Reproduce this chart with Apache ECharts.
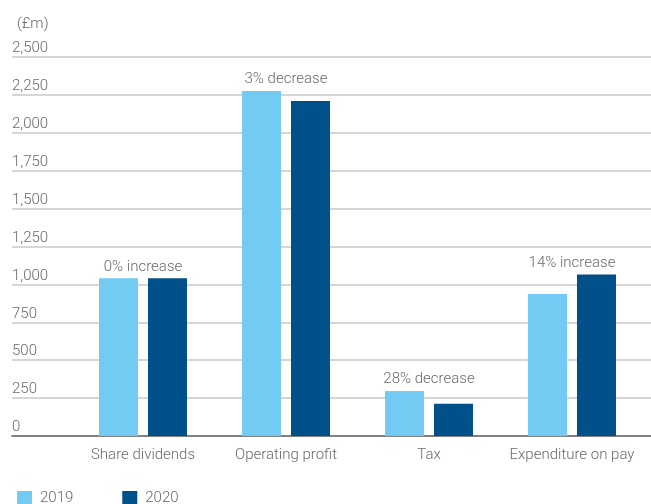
<!DOCTYPE html>
<html>
<head>
<meta charset="utf-8">
<script src="https://cdn.jsdelivr.net/npm/echarts@6/dist/echarts.min.js"></script>
<style>
html,body{margin:0;padding:0;background:#fff;}
#chart{width:651px;height:504px;}
</style>
</head>
<body>
<div id="chart"></div>
<script>
const categories = ['Share dividends', 'Operating profit', 'Tax', 'Expenditure on pay'];
const values2019 = [1040, 2276, 297, 936];
const values2020 = [1040, 2210, 213, 1065];
const changeLabels = ['0% increase', '3% decrease', '28% decrease', '14% increase'];
const seriesNames = ['2019', '2020'];
const yMin = 0, yMax = 2500, yStep = 250;
const unitLabel = '(£m)';

const FONT = 'Roboto';
const TXT = '#6a6a6a';
const LIGHT = '#73CBF4';
const DARK = '#00508A';

const annotationData = categories.map((c, i) => ({
  value: [c, Math.max(values2019[i], values2020[i])],
  label: { formatter: changeLabels[i] }
}));

const chart = echarts.init(document.getElementById('chart'), null, {renderer: 'canvas'});
chart.setOption({
  animation: false,
  backgroundColor: '#fff',
  textStyle: { fontFamily: FONT },
  title: {
    text: unitLabel, left: 12, top: 12,
    textStyle: { fontFamily: FONT, fontSize: 15, fontWeight: 300, color: TXT }
  },
  legend: {
    left: 12, top: 486, itemWidth: 15, itemHeight: 15, itemGap: 49, icon: 'rect',
    data: seriesNames,
    textStyle: { fontFamily: FONT, fontSize: 15, fontWeight: 300, color: TXT, padding: [0, 0, 0, 3] }
  },
  grid: [
    { left: 12, right: 0, top: 57, bottom: 68 },
    { left: 71.5, right: 7.5, top: 57, bottom: 68 }
  ],
  xAxis: [
    { gridIndex: 0, type: 'value', min: 0, max: 1,
      axisLine: { show: true, lineStyle: { color: '#666', width: 1.5 } },
      axisTick: { show: false }, axisLabel: { show: false }, splitLine: { show: false } },
    { gridIndex: 1, type: 'category', data: categories,
      axisLine: { show: false }, axisTick: { show: false },
      axisLabel: { interval: 0, fontFamily: FONT, fontSize: 15, fontWeight: 300, color: TXT, margin: 12 } }
  ],
  yAxis: [
    { gridIndex: 0, type: 'value', min: yMin, max: yMax, interval: yStep,
      axisLine: { show: false }, axisTick: { show: false },
      axisLabel: {
        inside: true, margin: 0, align: 'left', verticalAlign: 'bottom',
        padding: [0, 0, 1, 0],
        fontFamily: FONT, fontSize: 15, fontWeight: 300, color: TXT,
        formatter: v => v.toLocaleString('en-GB')
      },
      splitLine: { show: true, lineStyle: { color: '#c8c8c8', width: 1.5 } } },
    { gridIndex: 1, type: 'value', min: yMin, max: yMax, interval: yStep, show: false,
      splitLine: { show: false } }
  ],
  series: [
    { name: seriesNames[0], type: 'bar', xAxisIndex: 1, yAxisIndex: 1, data: values2019,
      barWidth: 39, barGap: '25.6%', itemStyle: { color: LIGHT } },
    { name: seriesNames[1], type: 'bar', xAxisIndex: 1, yAxisIndex: 1, data: values2020,
      barWidth: 39, barGap: '25.6%', itemStyle: { color: DARK } },
    { type: 'scatter', xAxisIndex: 1, yAxisIndex: 1, symbolSize: 0, silent: true,
      itemStyle: { opacity: 1 },
      data: annotationData,
      label: { show: true, position: 'top', distance: 4, opacity: 1,
        fontFamily: FONT, fontSize: 15, fontWeight: 300, color: TXT } }
  ]
});
</script>
</body>
</html>
